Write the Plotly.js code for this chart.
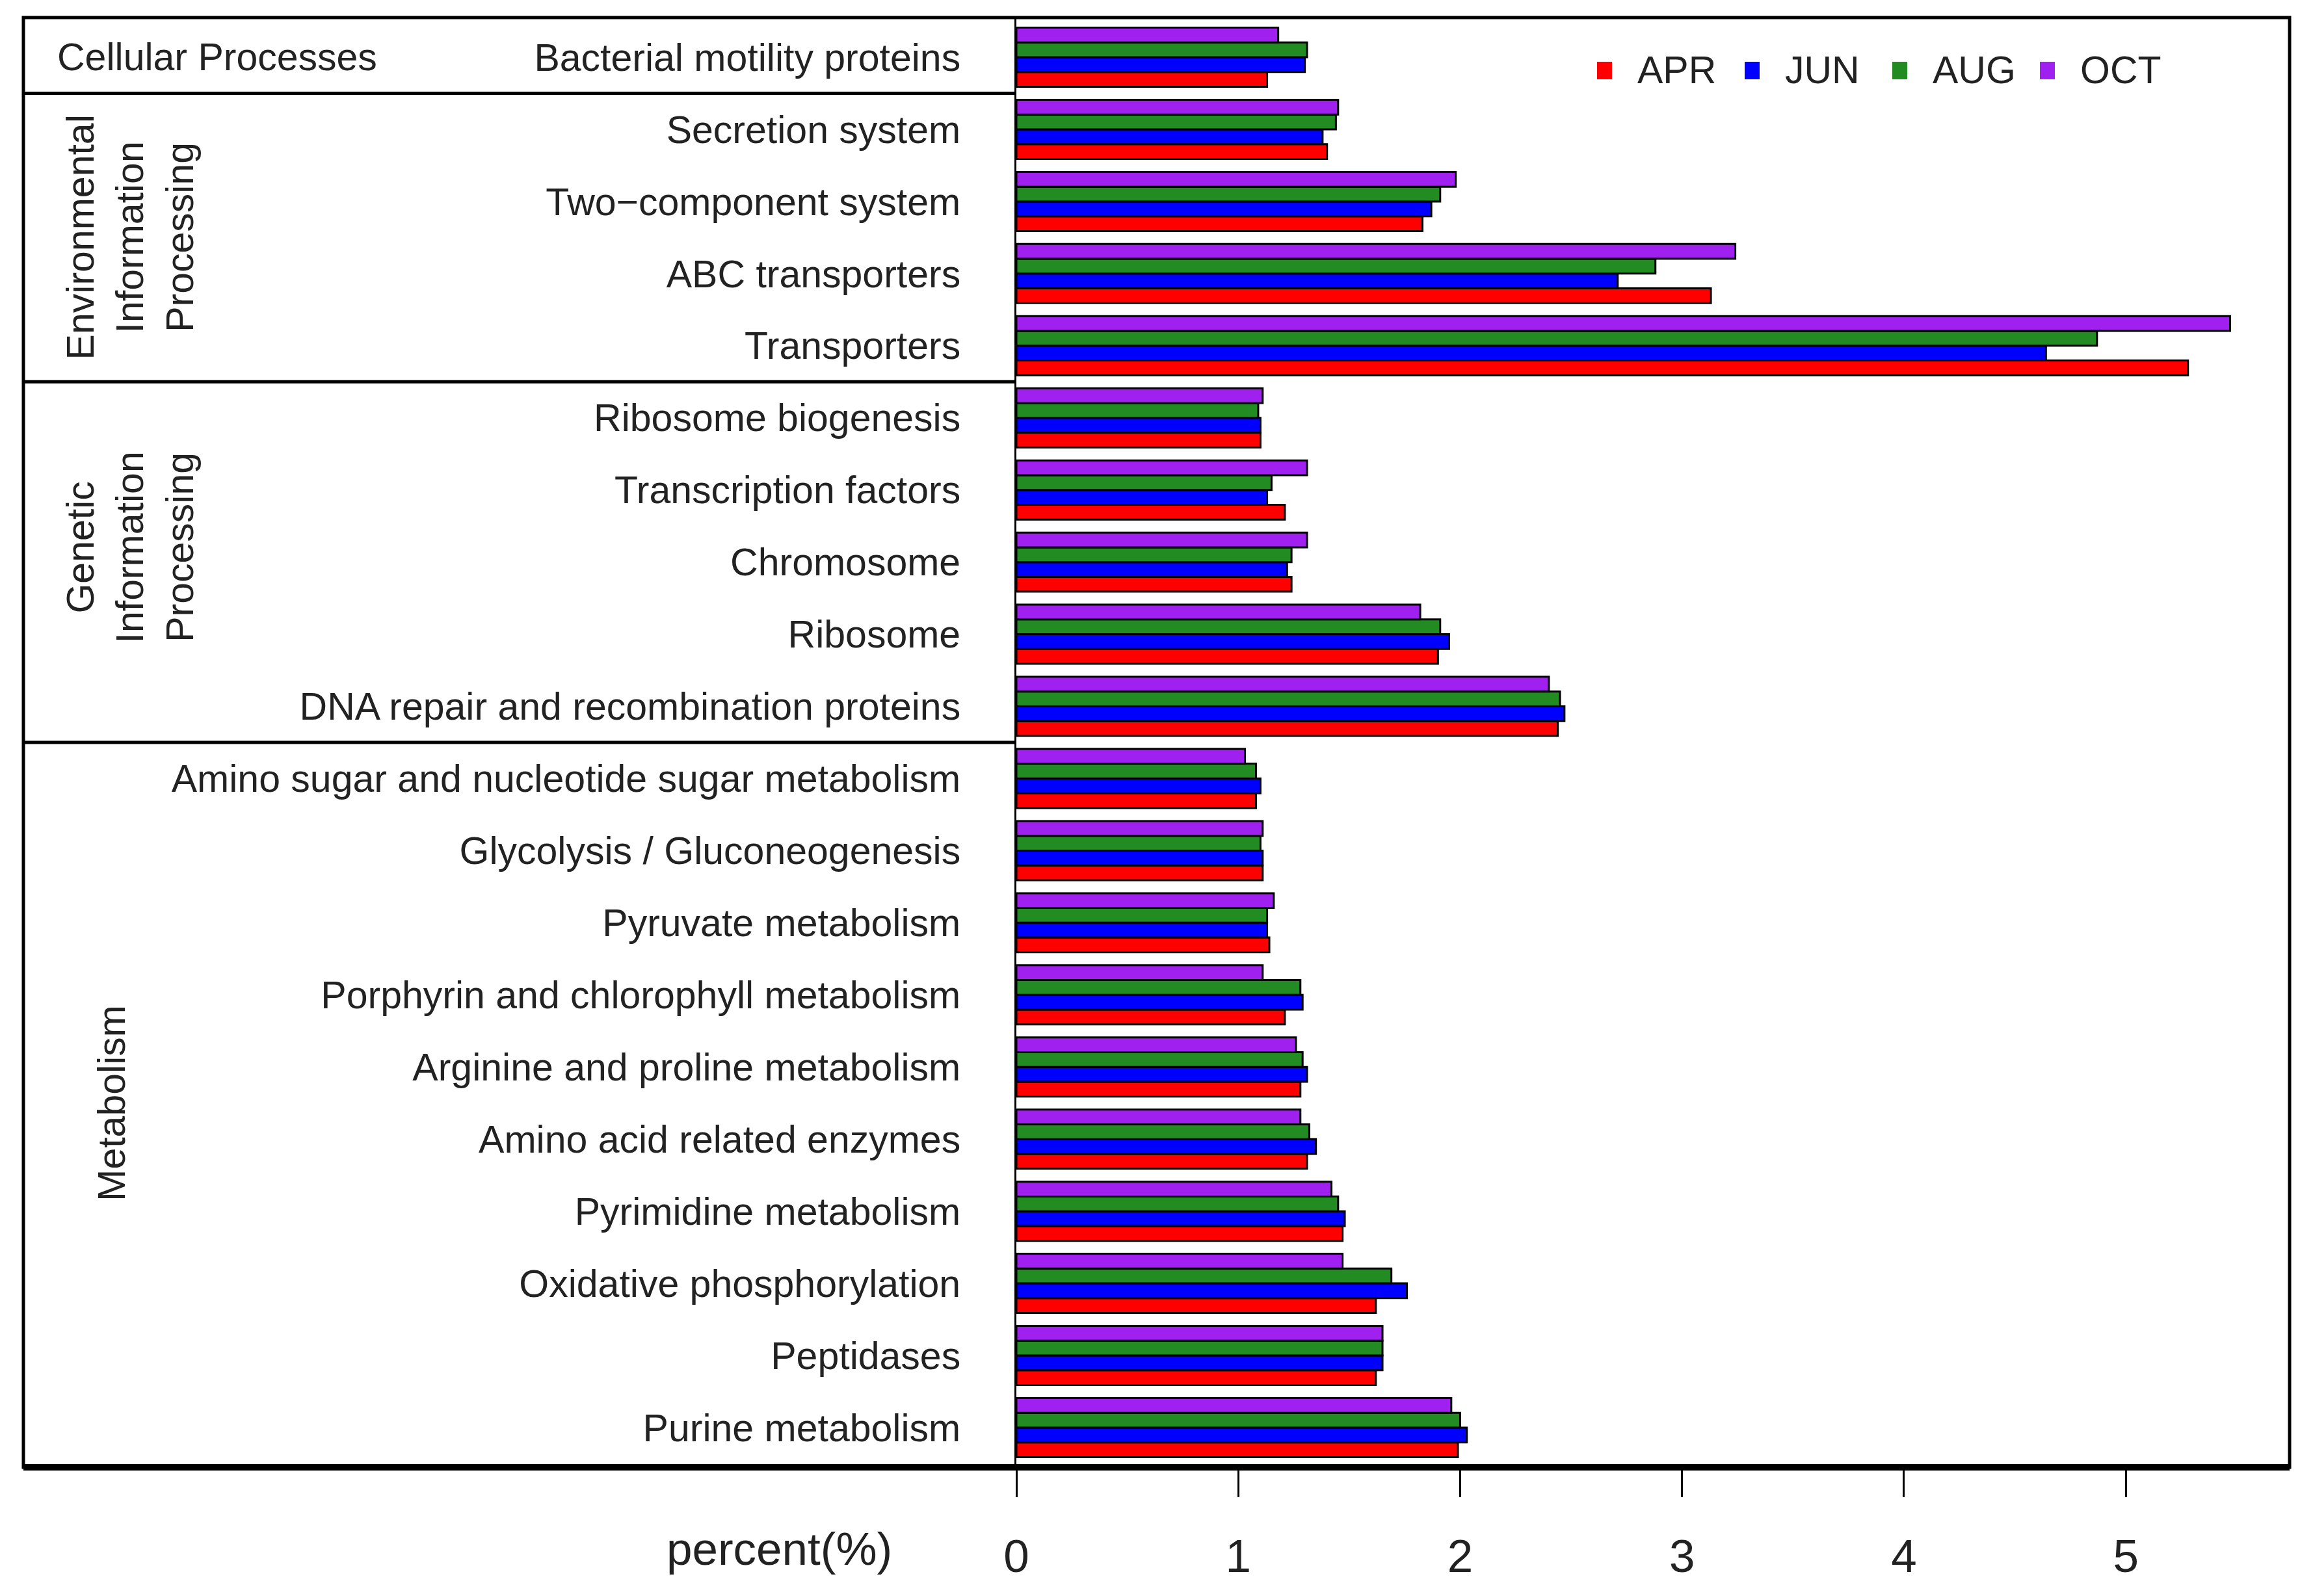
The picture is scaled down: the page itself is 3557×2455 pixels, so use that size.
<!DOCTYPE html>
<html>
<head>
<meta charset="utf-8">
<script src="https://cdn.plot.ly/plotly-3.0.1.min.js"></script>
<style>html,body{margin:0;padding:0;background:#fff;}#chart{width:3557px;height:2455px;}</style>
</head>
<body>
<div id="chart"></div>
<script>
// Categories, top to bottom as in the figure
const categories = [
  "Bacterial motility proteins",
  "Secretion system",
  "Two\u2212component system",
  "ABC transporters",
  "Transporters",
  "Ribosome biogenesis",
  "Transcription factors",
  "Chromosome",
  "Ribosome",
  "DNA repair and recombination proteins",
  "Amino sugar and nucleotide sugar metabolism",
  "Glycolysis / Gluconeogenesis",
  "Pyruvate metabolism",
  "Porphyrin and chlorophyll metabolism",
  "Arginine and proline metabolism",
  "Amino acid related enzymes",
  "Pyrimidine metabolism",
  "Oxidative phosphorylation",
  "Peptidases",
  "Purine metabolism"
];

const seriesNames = ["APR", "JUN", "AUG", "OCT"];
const APR = [1.13,1.40,1.83,3.13,5.28,1.10,1.21,1.24,1.90,2.44,1.08,1.11,1.14,1.21,1.28,1.31,1.47,1.62,1.62,1.99];
const JUN = [1.30,1.38,1.87,2.71,4.64,1.10,1.13,1.22,1.95,2.47,1.10,1.11,1.13,1.29,1.31,1.35,1.48,1.76,1.65,2.03];
const AUG = [1.31,1.44,1.91,2.88,4.87,1.09,1.15,1.24,1.91,2.45,1.08,1.10,1.13,1.28,1.29,1.32,1.45,1.69,1.65,2.00];
const OCT = [1.18,1.45,1.98,3.24,5.47,1.11,1.31,1.31,1.82,2.40,1.03,1.11,1.16,1.11,1.26,1.28,1.42,1.47,1.65,1.96];

// Functional groups (in order, with number of categories)
const groupNames = ["Cellular Processes", "Environmental<br>Information<br>Processing", "Genetic<br>Information<br>Processing", "Metabolism"];
const groupSizes = [1, 4, 5, 10];

const xTicks = [0, 1, 2, 3, 4, 5];
const xTitle = "percent(%)";

const colors = ["#FF0000", "#0000FF", "#228B22", "#A020F0"];
const seriesValues = [APR, JUN, AUG, OCT];
const FONT = "Liberation Sans, Arial, Helvetica, sans-serif";
const TXT = "#222";

const n = categories.length;
const yPos = categories.map((c, i) => n - 1 - i);

const traces = seriesValues.map((vals, k) => ({
  type: "bar", orientation: "h",
  x: vals, y: yPos, name: seriesNames[k],
  marker: {color: colors[k], line: {color: "#000", width: 3}},
  showlegend: false, hoverinfo: "x+name"
}));

// geometry (pixels)
const W = 3557, H = 2455;
const mL = 1563, mR = 36, mT = 27, mB = 198;
const plotW = W - mL - mR, plotH = H - mT - mB;
const px = (X) => (X - mL) / plotW;          // pixel x -> paper x
const py = (Y) => (mT + plotH - Y) / plotH;  // pixel y -> paper y
const frameLeft = px(36);

const shapes = [];
shapes.push({type: "rect", xref: "paper", yref: "paper", x0: frameLeft, x1: 1, y0: 0, y1: 1,
  line: {color: "#000", width: 5}, layer: "above"});
shapes.push({type: "line", xref: "paper", yref: "paper", x0: frameLeft, x1: 1, y0: 0, y1: 0,
  line: {color: "#000", width: 10}, layer: "above"});

const annotations = [];
const gFont = {family: FONT, size: 59, color: TXT};
let start = 0;
groupSizes.forEach((sz, g) => {
  const topIdx = n - 1 - start;
  const botIdx = n - 1 - (start + sz - 1);
  if (g > 0) {
    shapes.push({type: "line", xref: "paper", yref: "y", x0: frameLeft, x1: 0, y0: topIdx + 0.5, y1: topIdx + 0.5,
      line: {color: "#000", width: 5}, layer: "above"});
  }
  const mid = (topIdx + botIdx) / 2;
  if (g === 0) {
    annotations.push({xref: "paper", yref: "y", x: px(86), y: mid, text: groupNames[g],
      showarrow: false, xanchor: "left", yanchor: "middle", font: gFont});
  } else if (sz === 10) {
    annotations.push({xref: "paper", yref: "y", x: px(172), y: mid, text: groupNames[g],
      showarrow: false, textangle: -90, xanchor: "center", yanchor: "middle", font: gFont});
  } else {
    annotations.push({xref: "paper", yref: "y", x: px(200), y: mid + (g === 2 ? 0.2 : 0), text: groupNames[g],
      showarrow: false, textangle: -90, xanchor: "center", yanchor: "middle", font: gFont});
  }
  start += sz;
});
annotations.push({xref: "paper", yref: "paper", x: px(1198), y: py(2382),
  text: xTitle, showarrow: false, xanchor: "center", yanchor: "middle", font: {family: FONT, size: 71, color: TXT}});

// custom legend (larger squares, as in the figure)
seriesNames.forEach((nm, k) => {
  const left = 2456 + k * 227;
  shapes.push({type: "rect", xref: "paper", yref: "paper", x0: px(left), x1: px(left + 23), y0: py(95), y1: py(122),
    fillcolor: colors[k], line: {width: 0}, layer: "above"});
  annotations.push({xref: "paper", yref: "paper", x: px(left + 60), y: py(108), text: nm, showarrow: false,
    xanchor: "left", yanchor: "middle", font: {family: FONT, size: 59, color: TXT}});
});

const layout = {
  width: W, height: H,
  margin: {l: mL, r: mR, t: mT, b: mB, pad: 0},
  paper_bgcolor: "#fff", plot_bgcolor: "#fff",
  font: {family: FONT, color: TXT},
  barmode: "group", bargap: 0.18, bargroupgap: 0,
  showlegend: false,
  xaxis: {range: [0, 5.738], tickvals: xTicks, ticks: "outside", ticklen: 45, tickwidth: 3, tickcolor: "#000",
    showgrid: false, zeroline: false, showline: false, tickfont: {family: FONT, size: 71, color: TXT},
    ticklabelstandoff: 30, fixedrange: true},
  yaxis: {range: [-0.55, n - 1 + 0.55], tickvals: yPos, ticktext: categories, ticks: "",
    showgrid: false, zeroline: false, showline: true, linecolor: "#000", linewidth: 3,
    tickfont: {family: FONT, size: 59, color: TXT}, ticklabelstandoff: 71, fixedrange: true},
  shapes: shapes,
  annotations: annotations
};

Plotly.newPlot("chart", traces, layout, {displayModeBar: false, staticPlot: true});
</script>
</body>
</html>
